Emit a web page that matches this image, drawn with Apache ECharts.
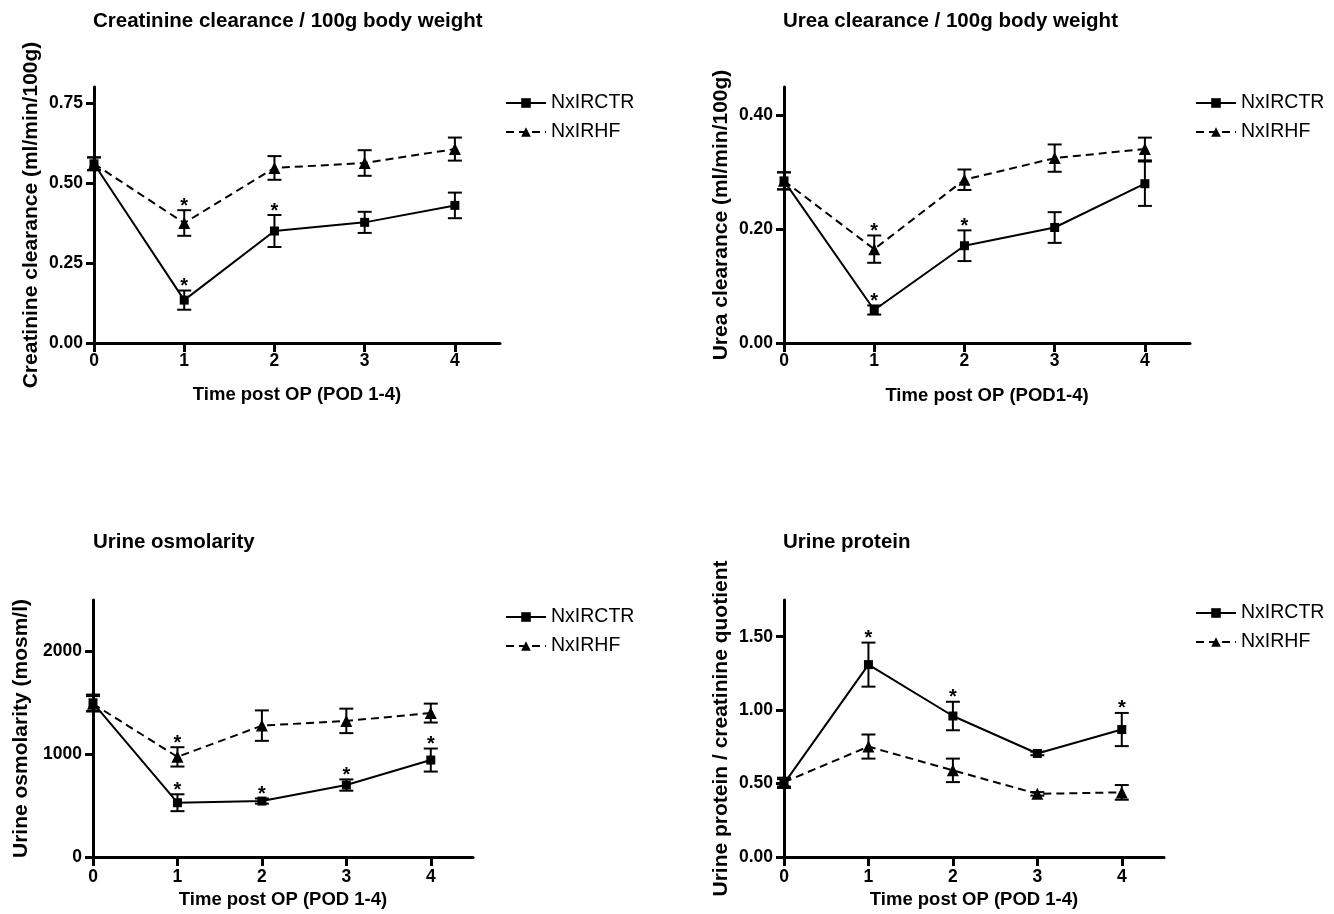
<!DOCTYPE html>
<html>
<head>
<meta charset="utf-8">
<script src="https://cdn.jsdelivr.net/npm/echarts@6/dist/echarts.min.js"></script>
<style>
html,body{margin:0;padding:0;background:#fff;}
#c{width:1334px;height:914px;}
</style>
</head>
<body>
<div id="c"></div>
<script>
// ---- data ----
const xValues = [0, 1, 2, 3, 4];
const seriesNames = ['NxIRCTR', 'NxIRHF'];

const titles = ['Creatinine clearance / 100g body weight', 'Urea clearance / 100g body weight', 'Urine osmolarity', 'Urine protein'];
const yNames = ['Creatinine clearance (ml/min/100g)', 'Urea clearance (ml/min/100g)', 'Urine osmolarity (mosm/l)', 'Urine protein / creatinine quotient'];
const xNames = ['Time post OP (POD 1-4)', 'Time post OP (POD1-4)', 'Time post OP (POD 1-4)', 'Time post OP (POD 1-4)'];

const creatTicks = [0, 0.25, 0.5, 0.75];
const creatCtrMean = [0.56, 0.134, 0.35, 0.377, 0.43];
const creatCtrErr  = [0.02, 0.03, 0.05, 0.033, 0.04];
const creatCtrSig  = [0, 1, 1, 0, 0];
const creatHfMean  = [0.56, 0.375, 0.547, 0.5625, 0.606];
const creatHfErr   = [0.02, 0.04, 0.037, 0.04, 0.036];
const creatHfSig   = [0, 1, 0, 0, 0];

const ureaTicks = [0, 0.2, 0.4];
const ureaCtrMean = [0.285, 0.058, 0.171, 0.203, 0.28];
const ureaCtrErr  = [0.015, 0.008, 0.027, 0.027, 0.039];
const ureaCtrSig  = [0, 1, 1, 0, 0];
const ureaHfMean  = [0.285, 0.165, 0.287, 0.325, 0.341];
const ureaHfErr   = [0.015, 0.024, 0.018, 0.024, 0.02];
const ureaHfSig   = [0, 1, 0, 0, 0];

const osmTicks = [0, 1000, 2000];
const osmCtrMean = [1500, 528, 544, 700, 943];
const osmCtrErr  = [80, 82, 25, 55, 112];
const osmCtrSig  = [0, 1, 1, 1, 1];
const osmHfMean  = [1490, 974, 1278, 1324, 1400];
const osmHfErr   = [75, 94, 148, 119, 92];
const osmHfSig   = [0, 1, 0, 0, 0];

const protTicks = [0, 0.5, 1.0, 1.5];
const protCtrMean = [0.50, 1.31, 0.96, 0.705, 0.868];
const protCtrErr  = [0.03, 0.15, 0.097, 0.012, 0.113];
const protCtrSig  = [0, 1, 1, 0, 1];
const protHfMean  = [0.51, 0.752, 0.59, 0.43, 0.44];
const protHfErr   = [0.03, 0.082, 0.08, 0.012, 0.05];
const protHfSig   = [0, 0, 0, 0, 0];

// ---- layout ----
const FONT = '"Liberation Sans", Arial, Helvetica, sans-serif';
const panels = [
  {grid:{left:94, top:87, width:406, height:256}, yMax:0.8, ticks:creatTicks, dec:2, yGap:52, xGap:42, xMargin:9,
   ctr:[creatCtrMean, creatCtrErr, creatCtrSig], hf:[creatHfMean, creatHfErr, creatHfSig],
   title:{left:93, top:11}, legend:{left:505, top:93}},
  {grid:{left:784, top:87, width:406, height:256}, yMax:0.45, ticks:ureaTicks, dec:2, yGap:52, xGap:43, xMargin:9,
   ctr:[ureaCtrMean, ureaCtrErr, ureaCtrSig], hf:[ureaHfMean, ureaHfErr, ureaHfSig],
   title:{left:783, top:11}, legend:{left:1195, top:93}},
  {grid:{left:93, top:600, width:380, height:257}, yMax:2500, ticks:osmTicks, dec:0, yGap:61, xGap:33, xMargin:11,
   ctr:[osmCtrMean, osmCtrErr, osmCtrSig], hf:[osmHfMean, osmHfErr, osmHfSig],
   title:{left:93, top:532}, legend:{left:505, top:607}},
  {grid:{left:784, top:600, width:380, height:257}, yMax:1.75, ticks:protTicks, dec:2, yGap:52, xGap:33, xMargin:11,
   ctr:[protCtrMean, protCtrErr, protCtrSig], hf:[protHfMean, protHfErr, protHfSig],
   title:{left:783, top:532}, legend:{left:1195, top:603}}
];

function renderErr(params, api) {
  const x = api.value(0), m = api.value(1), e = api.value(2), s = api.value(3);
  const top = api.coord([x, m + e]);
  const bot = api.coord([x, m - e]);
  const hw = 7;
  const st = {stroke:'#000', lineWidth:2};
  const children = [
    {type:'line', shape:{x1:top[0], y1:top[1], x2:bot[0], y2:bot[1]}, style:st},
    {type:'line', shape:{x1:top[0]-hw, y1:top[1], x2:top[0]+hw, y2:top[1]}, style:st},
    {type:'line', shape:{x1:bot[0]-hw, y1:bot[1], x2:bot[0]+hw, y2:bot[1]}, style:st}
  ];
  if (s) {
    children.push({type:'text', x:top[0], y:top[1]-4,
      style:{text:'*', font:'bold 20px ' + FONT, fill:'#000', align:'center', verticalAlign:'middle'}});
  }
  return {type:'group', children};
}

const option = {
  backgroundColor:'#fff',
  animation:false,
  title:[], legend:[], grid:[], xAxis:[], yAxis:[], series:[]
};

panels.forEach((p, i) => {
  option.title.push({text:titles[i], left:p.title.left, top:p.title.top, padding:0,
    textStyle:{fontFamily:FONT, fontWeight:'bold', fontSize:20.5, color:'#000'}});
  option.legend.push({left:p.legend.left, top:p.legend.top, padding:0, orient:'vertical',
    data:seriesNames, itemWidth:40, itemHeight:12, itemGap:9, selectedMode:false,
    textStyle:{fontFamily:FONT, fontSize:19.5, color:'#000', lineHeight:20}});
  option.grid.push(Object.assign({containLabel:false}, p.grid));
  option.xAxis.push({type:'value', gridIndex:i, min:0, max:4.5, interval:1,
    name:xNames[i], nameLocation:'middle', nameGap:p.xGap,
    nameTextStyle:{fontFamily:FONT, fontWeight:'bold', fontSize:18.5, color:'#000'},
    axisLine:{onZero:false, lineStyle:{color:'#000', width:3}},
    axisTick:{show:true, inside:false, length:9, lineStyle:{color:'#000', width:3}, customValues:xValues},
    axisLabel:{margin:p.xMargin, fontFamily:FONT, fontWeight:'bold', fontSize:17.5, color:'#000', customValues:xValues},
    splitLine:{show:false}});
  option.yAxis.push({type:'value', gridIndex:i, min:0, max:p.yMax,
    name:yNames[i], nameLocation:'middle', nameGap:p.yGap, nameRotate:90,
    nameTextStyle:{fontFamily:FONT, fontWeight:'bold', fontSize:21, color:'#000'},
    axisLine:{show:true, onZero:false, lineStyle:{color:'#000', width:3}},
    axisTick:{show:true, inside:false, length:8, lineStyle:{color:'#000', width:3}, customValues:p.ticks},
    axisLabel:{margin:11, fontFamily:FONT, fontWeight:'bold', fontSize:17.5, color:'#000', customValues:p.ticks,
      formatter:(v) => Number(v).toFixed(p.dec)},
    splitLine:{show:false}});

  const groups = [
    {name:seriesNames[0], d:p.ctr, symbol:'rect', size:9, type:'solid'},
    {name:seriesNames[1], d:p.hf, symbol:'triangle', size:12, type:[8,5]}
  ];
  groups.forEach(g => {
    option.series.push({type:'custom', xAxisIndex:i, yAxisIndex:i, silent:true, z:3,
      renderItem:renderErr,
      data:xValues.map((x, k) => [x, g.d[0][k], g.d[1][k], g.d[2][k]])});
    option.series.push({type:'line', name:g.name, xAxisIndex:i, yAxisIndex:i, z:4,
      symbol:g.symbol, symbolSize:g.size, showAllSymbol:true,
      lineStyle:{color:'#000', width:2, type:g.type},
      itemStyle:{color:'#000'},
      data:xValues.map((x, k) => [x, g.d[0][k]])});
  });
});

const chart = echarts.init(document.getElementById('c'), null, {renderer:'canvas'});
chart.setOption(option);
</script>
</body>
</html>
